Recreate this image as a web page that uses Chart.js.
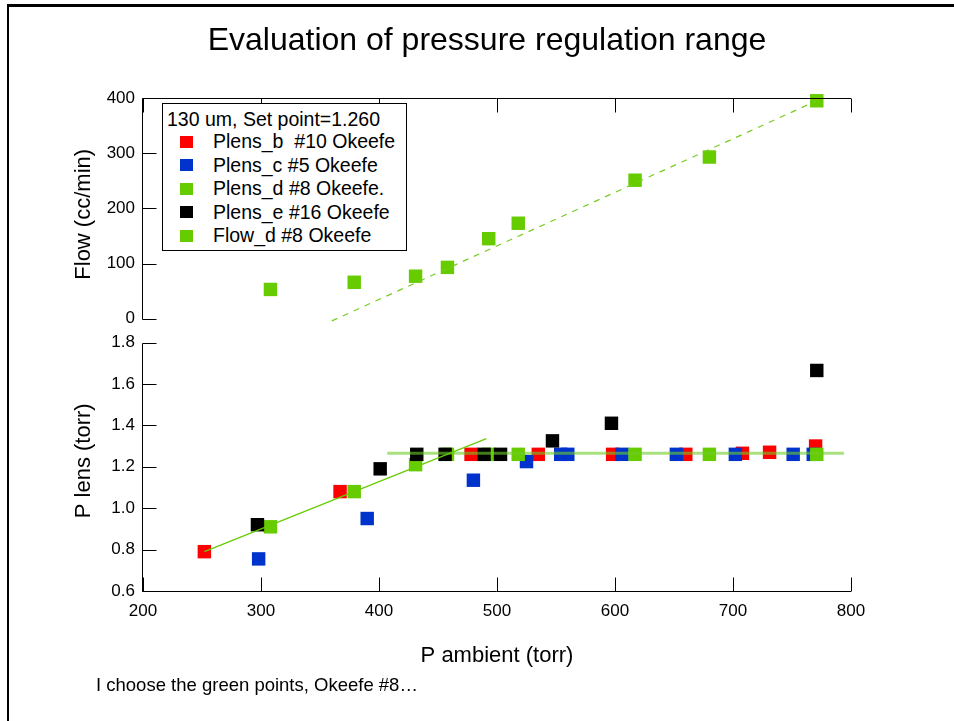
<!DOCTYPE html>
<html>
<head>
<meta charset="utf-8">
<title>Evaluation of pressure regulation range</title>
<script src="https://cdn.jsdelivr.net/npm/chart.js@4.4.1/dist/chart.umd.min.js"></script>
<style>
  html, body { margin: 0; padding: 0; background: #fff; }
  #page { position: relative; width: 954px; height: 721px; overflow: hidden;
          font-family: "Liberation Sans", Arial, sans-serif; color: #000; }
  #frame { position: absolute; left: 7px; top: 4px; right: -10px; bottom: -10px;
           border-top: 3px solid #000; border-left: 2px solid #000; }
  #plot { position: absolute; left: 0; top: 0; }
  #title { position: absolute; left: 0; width: 974px; top: 20px; text-align: center;
           font-size: 32px; line-height: 38px; white-space: nowrap; }
  #legend { position: absolute; left: 162px; top: 103px; width: 243px; height: 146px;
            border: 1px solid #000; background: #fff; font-size: 19.5px; }
  #legend .head { padding: 4px 0 0 4px; line-height: 22px; white-space: pre; }
  #legend .row { position: relative; height: 23.5px; line-height: 23.5px; white-space: pre; padding-left: 50px; }
  #legend .row i { position: absolute; left: 17px; top: 5.5px; width: 13px; height: 12px; }
  #note { position: absolute; left: 96px; top: 674px; font-size: 18.5px; line-height: 22px; white-space: nowrap; }
</style>
</head>
<body>
<div id="page">
  <canvas id="plot" width="954" height="721"></canvas>
  <div id="title">Evaluation of pressure regulation range</div>
  <div id="legend"></div>
  <div id="note">I choose the green points, Okeefe #8…</div>
  <div id="frame"></div>
</div>
<script>
// P ambient (torr) and P lens (torr) for each Okeefe orifice
var pAmbB = [252, 367, 478, 535, 598, 660, 708, 731, 770];
var plensB = [0.79, 1.08, 1.26, 1.26, 1.26, 1.26, 1.265, 1.27, 1.30];

var pAmbC = [298, 390, 480, 525, 554, 560, 606, 652, 702, 751, 768];
var plensC = [0.755, 0.95, 1.135, 1.225, 1.26, 1.26, 1.26, 1.26, 1.26, 1.26, 1.26];

var pAmbD = [308, 379, 431, 458, 493, 518, 617, 680, 771];
var plensD = [0.91, 1.08, 1.21, 1.26, 1.26, 1.26, 1.26, 1.26, 1.26];
var flowD = [53, 66, 77, 93, 145, 173, 251, 293, 395];

var pAmbE = [297, 401, 432, 456, 489, 503, 547, 597, 771];
var plensE = [0.92, 1.19, 1.26, 1.26, 1.26, 1.26, 1.325, 1.41, 1.665];

// fit lines
var flowFitX = [360, 771];
var flowFitY = [-4, 395];
var rampFitX = [252, 491];
var rampFitY = [0.79, 1.336];
var setPointX = [407, 794];
var setPointY = [1.265, 1.265];

// tick labels
var xTicks = [200, 300, 400, 500, 600, 700, 800];
var flowTicks = [0, 100, 200, 300, 400];
var plensTicks = [0.6, 0.8, 1.0, 1.2, 1.4, 1.6, 1.8];

var legendTitle = '130 um, Set point=1.260';
var font = '"Liberation Sans", Arial, sans-serif';

function pairs(xs, ys) {
    return xs.map(function (x, i) { return {x: x, y: ys[i]}; });
}

function points(label, xs, ys, color, axis, order) {
    return {
        label: label,
        data: pairs(xs, ys),
        yAxisID: axis,
        order: order,
        showLine: false,
        pointStyle: 'rect',
        pointRadius: 9.5,
        pointHoverRadius: 9.5,
        pointBorderWidth: 0,
        backgroundColor: color,
        borderColor: color,
        clip: false,
        inLegend: true
    };
}

function line(xs, ys, color, width, dash, axis) {
    return {
        data: pairs(xs, ys),
        yAxisID: axis,
        order: 0,
        showLine: true,
        pointRadius: 0,
        borderColor: color,
        borderWidth: width,
        borderDash: dash,
        clip: false
    };
}

var datasets = [
    points('Plens_b  #10 Okeefe', pAmbB, plensB, '#ff0000', 'yPlens', 4),
    points('Plens_c #5 Okeefe', pAmbC, plensC, '#0033cc', 'yPlens', 3),
    points('Plens_d #8 Okeefe.', pAmbD, plensD, '#66cc00', 'yPlens', 2),
    points('Plens_e #16 Okeefe', pAmbE, plensE, '#000000', 'yPlens', 1),
    points('Flow_d #8 Okeefe', pAmbD, flowD, '#66cc00', 'yFlow', 2),
    line(flowFitX, flowFitY, '#77cc22', 1.2, [6, 6], 'yFlow'),
    line(rampFitX, rampFitY, '#66cc00', 1.2, [], 'yPlens'),
    line(setPointX, setPointY, 'rgba(110, 205, 40, 0.6)', 3, [], 'yPlens')
];

// legend box drawn from the point datasets
var legendEl = document.getElementById('legend');
var html = '<div class="head">' + legendTitle + '</div>';
datasets.forEach(function (d) {
    if (d.inLegend) {
        html += '<div class="row"><i style="background:' + d.backgroundColor + '"></i>' + d.label + '</div>';
    }
});
legendEl.innerHTML = html;

// axis lines with ticks pointing into the plot
var axisFrame = {
    id: 'axisFrame',
    afterDatasetsDraw: function (chart) {
        var ctx = chart.ctx;
        var a = chart.chartArea;
        var x = chart.scales.x;
        var tick = 14;
        var left = Math.round(a.left) - 0.5;
        ctx.save();
        ctx.lineWidth = 1;
        ctx.strokeStyle = '#000';

        [[chart.scales.yFlow, flowTicks], [chart.scales.yPlens, plensTicks]].forEach(function (p) {
            var s = p[0], vals = p[1];
            var top = Math.round(s.getPixelForValue(vals[vals.length - 1])) + 0.5;
            var bottom = Math.round(s.getPixelForValue(vals[0])) + 0.5;
            ctx.beginPath();
            ctx.moveTo(left, top);
            ctx.lineTo(left, bottom);
            vals.forEach(function (v) {
                var y = Math.round(s.getPixelForValue(v)) + 0.5;
                ctx.moveTo(left, y);
                ctx.lineTo(left + tick, y);
            });
            ctx.stroke();
        });

        var yTop = Math.round(chart.scales.yFlow.getPixelForValue(flowTicks[flowTicks.length - 1])) + 0.5;
        var yBot = Math.round(chart.scales.yPlens.getPixelForValue(plensTicks[0])) + 0.5;
        ctx.beginPath();
        ctx.moveTo(left, yTop);
        ctx.lineTo(a.right, yTop);
        ctx.moveTo(left, yBot);
        ctx.lineTo(a.right, yBot);
        xTicks.forEach(function (v) {
            var px = Math.round(x.getPixelForValue(v)) + 0.5;
            ctx.moveTo(px, yTop);
            ctx.lineTo(px, yTop + tick);
            ctx.moveTo(px, yBot);
            ctx.lineTo(px, yBot - tick);
        });
        ctx.stroke();
        ctx.restore();
    }
};

function fixedTicks(vals) {
    return function (scale) {
        scale.ticks = vals.map(function (v) { return {value: v}; });
    };
}

var ctx = document.getElementById('plot').getContext('2d');
var chart = new Chart(ctx, {
    type: 'scatter',
    data: { datasets: datasets },
    options: {
        responsive: false,
        animation: false,
        devicePixelRatio: 1,
        events: [],
        layout: { padding: { left: 0, right: 103, top: 98, bottom: 50 } },
        plugins: {
            legend: { display: false },
            tooltip: { enabled: false }
        },
        scales: {
            x: {
                type: 'linear',
                position: 'bottom',
                min: 200,
                max: 800,
                afterBuildTicks: fixedTicks(xTicks),
                afterFit: function (s) { s.height = 80; },
                grid: { display: false, drawTicks: false },
                border: { display: false },
                ticks: { font: { size: 17, family: font }, color: '#000', padding: 10, maxRotation: 0 },
                title: { display: true, text: 'P ambient (torr)', color: '#000',
                         font: { size: 22, family: font }, padding: { top: 0, bottom: 2 } }
            },
            yFlow: {
                type: 'linear',
                position: 'left',
                stack: 'panels',
                stackWeight: 232.6,
                weight: 2,
                min: -21.6,
                max: 400,
                afterBuildTicks: fixedTicks(flowTicks),
                afterFit: function (s) { s.width = 143; },
                grid: { display: false, drawTicks: false },
                border: { display: false },
                ticks: { font: { size: 17, family: font }, color: '#000', padding: 8,
                         callback: function (v) { return String(v); } },
                title: { display: true, text: 'Flow (cc/min)', color: '#000',
                         font: { size: 22, family: font }, padding: { top: 71, bottom: 0 } }
            },
            yPlens: {
                type: 'linear',
                position: 'left',
                stack: 'panels',
                stackWeight: 260.4,
                weight: 1,
                min: 0.6,
                max: 1.8575,
                afterBuildTicks: fixedTicks(plensTicks),
                afterFit: function (s) { s.width = 143; },
                grid: { display: false, drawTicks: false },
                border: { display: false },
                ticks: { font: { size: 17, family: font }, color: '#000', padding: 8,
                         callback: function (v) { return v.toFixed(1); } },
                title: { display: true, text: 'P lens (torr)', color: '#000',
                         font: { size: 22, family: font }, padding: { top: 71, bottom: 0 } }
            }
        }
    },
    plugins: [axisFrame]
});
</script>
</body>
</html>
